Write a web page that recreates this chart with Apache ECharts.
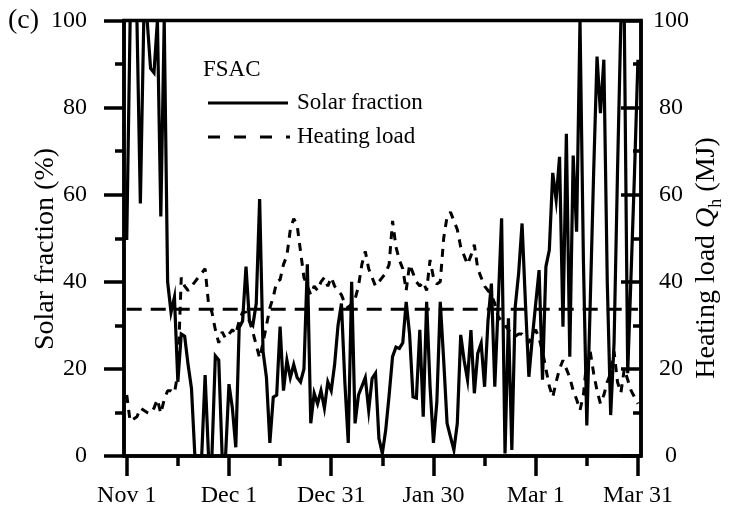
<!DOCTYPE html>
<html>
<head>
<meta charset="utf-8">
<script src="https://cdn.jsdelivr.net/npm/echarts@6/dist/echarts.min.js"></script>
<style>
  html, body { margin: 0; padding: 0; background: #fff; }
  #chart { width: 741px; height: 518px; }
</style>
</head>
<body>
<div id="chart"></div>
<script>
// Day index 0 = Nov 1 ... 150 = Mar 31
const dayTicks = [0, 30, 60, 90, 120, 150];
const dayTickLabels = ['Nov 1', 'Dec 1', 'Dec 31', 'Jan 30', 'Mar 1', 'Mar 31'];
const minorDayTicks = [15, 45, 75, 105, 135];

// Daily solar fraction of the FSAC system (%)
const solarFraction = [
  49.6, 100, 100, 100, 58, 100, 100, 89, 88, 100,
  55, 100, 40, 33, 36.5, 17, 28, 27.5, 21, 15.5,
  0, 0, 0, 18.6, 0, 0, 23, 22, 0, 0,
  16.5, 11, 2, 29.5, 31, 43.5, 31, 30, 35, 59,
  24, 18, 3, 13.5, 14, 29.7, 15, 22, 18, 21,
  18, 17, 20, 44, 7.5, 14.4, 12, 15, 11, 17,
  15, 21, 30, 35, 17, 3, 40, 7.5, 14, 16,
  18, 10.5, 17.8, 19, 4, 0.6, 6, 14, 22.8, 25,
  24.7, 26, 35.4, 28, 13.6, 13.3, 29, 9, 35.4, 16,
  3, 12.5, 35.4, 22, 7.5, 4.4, 1.4, 7.5, 27.8, 22,
  17.5, 28.9, 14.4, 23.6, 25.9, 15.9, 31, 39.6, 15.9, 35,
  54.6, 0.6, 31.6, 1.4, 34.3, 42, 53.4, 35, 18.2, 27,
  35, 42.7, 17.5, 43.5, 47.3, 65, 58.8, 68.7, 29.7, 74,
  22.8, 69, 51.5, 100, 45, 7, 35, 65, 91.7, 78.7,
  91, 40, 9.4, 26, 65, 100, 100, 19, 42, 65,
  91
];

// Daily heating load Q_h (MJ)
const heatingLoad = [
  14, 8, 8.5, 9, 11, 10.5, 10, 9.8, 11, 13,
  9.8, 13, 15, 15, 14.5, 19, 41, 39, 38, 39,
  40, 41, 42, 43, 35, 33, 29, 26, 28.5, 27,
  28, 29, 28, 31, 33, 33, 31, 28.5, 25.5, 22.5,
  26, 30, 34, 36.5, 40, 40.5, 44, 46, 52, 54.5,
  53, 47, 41, 39, 37, 39, 38, 40, 41, 39,
  41, 39, 38, 37, 35, 34, 35, 36, 39, 44,
  47, 43, 41, 39, 40, 41, 42, 44, 54, 48,
  45, 43, 38, 44, 42, 40, 39, 40, 38, 45,
  41, 39.5, 40, 50, 55, 56, 54, 52, 48, 46,
  44, 46, 48.5, 43, 41, 39, 38, 37, 35, 32,
  31, 30, 29, 28, 27.5, 28, 28, 27, 26, 28,
  29, 27, 24, 20, 16, 13.5, 17, 20, 22, 20,
  18, 15, 13, 10.5, 14, 22, 24, 19, 15, 12,
  14, 17, 19, 24, 17, 14.5, 20, 17.5, 15, 13.5,
  12
];

// Seasonal reference level of the heating load (MJ)
const heatingLoadRef = 33.7;

const FONT = '"Liberation Serif", "Times New Roman", serif';
const BLACK = '#000';
const AXIS_W = 3.5;
const toPairs = arr => arr.map((v, i) => [i, v]);
const axisLine = () => ({ show: true, onZero: false, lineStyle: { color: BLACK, width: AXIS_W } });

const chart = echarts.init(document.getElementById('chart'), null, { renderer: 'canvas' });

const option = {
  animation: false,
  backgroundColor: '#fff',
  grid: {
    left: 124, right: 100, top: 20.5, bottom: 62,
    containLabel: false,
    outerBoundsMode: 'none',
    show: true,
    borderColor: BLACK,
    borderWidth: AXIS_W,
    backgroundColor: 'transparent'
  },
  xAxis: [
    {
      type: 'value', min: -0.8, max: 150.9, position: 'bottom',
      splitLine: { show: false },
      axisLine: axisLine(),
      axisTick: {
        show: true, customValues: dayTicks, length: 20,
        lineStyle: { color: BLACK, width: AXIS_W }
      },
      axisLabel: {
        show: true, customValues: dayTicks, margin: 28,
        formatter: v => dayTickLabels[dayTicks.indexOf(Math.round(v))] || '',
        color: BLACK, fontFamily: FONT, fontSize: 24
      }
    },
    {
      type: 'value', min: -0.8, max: 150.9, position: 'bottom',
      splitLine: { show: false },
      axisLine: { show: false, onZero: false },
      axisTick: {
        show: true, customValues: minorDayTicks, length: 10,
        lineStyle: { color: BLACK, width: AXIS_W }
      },
      axisLabel: { show: false }
    }
  ],
  yAxis: [
    {
      type: 'value', min: 0, max: 100, interval: 20, position: 'left',
      axisLine: axisLine(),
      axisTick: { show: true, length: 20, lineStyle: { color: BLACK, width: AXIS_W } },
      minorTick: { show: true, splitNumber: 2, length: 9, lineStyle: { color: BLACK, width: AXIS_W } },
      splitLine: { show: false },
      minorSplitLine: { show: false },
      axisLabel: { margin: 37, color: BLACK, fontFamily: FONT, fontSize: 24 }
    },
    {
      type: 'value', min: 0, max: 100, interval: 20, position: 'right',
      axisLine: axisLine(),
      axisTick: { show: true, inside: true, length: 20, lineStyle: { color: BLACK, width: AXIS_W } },
      minorTick: { show: true, splitNumber: 2, length: 8, lineStyle: { color: BLACK, width: AXIS_W } },
      splitLine: { show: false },
      minorSplitLine: { show: false },
      axisLabel: { margin: 30, align: 'center', color: BLACK, fontFamily: FONT, fontSize: 24 }
    }
  ],
  series: [
    {
      name: 'Heating load reference',
      type: 'line',
      xAxisIndex: 0, yAxisIndex: 1,
      data: [[0, heatingLoadRef], [150, heatingLoadRef]],
      symbol: 'none',
      lineStyle: { color: BLACK, width: 3, type: [15, 9] },
      silent: true, z: 2
    },
    {
      name: 'Heating load',
      type: 'line',
      xAxisIndex: 0, yAxisIndex: 1,
      data: toPairs(heatingLoad),
      symbol: 'none',
      lineStyle: { color: BLACK, width: 3, type: [8, 7] },
      z: 3
    },
    {
      name: 'Solar fraction',
      type: 'line',
      xAxisIndex: 0, yAxisIndex: 0,
      data: toPairs(solarFraction),
      symbol: 'none',
      clip: false,
      lineStyle: { color: BLACK, width: 3.2, join: 'miter' },
      z: 4
    }
  ],
  graphic: [
    // panel tag
    { type: 'text', x: 8, y: 21, style: { text: '(c)', font: '28px ' + FONT, fill: BLACK, verticalAlign: 'middle' } },
    // legend block
    { type: 'text', x: 203, y: 70, style: { text: 'FSAC', font: '23px ' + FONT, fill: BLACK, verticalAlign: 'middle' } },
    { type: 'line', shape: { x1: 208, y1: 103, x2: 288, y2: 103 }, style: { stroke: BLACK, lineWidth: 3 } },
    { type: 'text', x: 297, y: 103, style: { text: 'Solar fraction', font: '23px ' + FONT, fill: BLACK, verticalAlign: 'middle' } },
    { type: 'line', shape: { x1: 208, y1: 137, x2: 290, y2: 137 }, style: { stroke: BLACK, lineWidth: 3, lineDash: [12, 14] } },
    { type: 'text', x: 297, y: 137, style: { text: 'Heating load', font: '23px ' + FONT, fill: BLACK, verticalAlign: 'middle' } },
    // axis titles
    {
      type: 'text', x: 46, y: 249, rotation: Math.PI / 2,
      style: { text: 'Solar fraction (%)', font: '28px ' + FONT, fill: BLACK, align: 'center', verticalAlign: 'middle' }
    },
    {
      type: 'text', x: 707, y: 258, rotation: Math.PI / 2,
      style: {
        text: '{a|Heating load }{q|Q}{s|h}{a| (MJ)}',
        align: 'center', verticalAlign: 'middle',
        rich: {
          a: { fontFamily: FONT, fontSize: 28, lineHeight: 36, fill: BLACK, color: BLACK },
          q: { fontFamily: FONT, fontSize: 28, lineHeight: 36, fontStyle: 'italic', fill: BLACK, color: BLACK },
          s: { fontFamily: FONT, fontSize: 18, lineHeight: 18, verticalAlign: 'bottom', fill: BLACK, color: BLACK }
        }
      }
    }
  ]
};

chart.setOption(option);
</script>
</body>
</html>
